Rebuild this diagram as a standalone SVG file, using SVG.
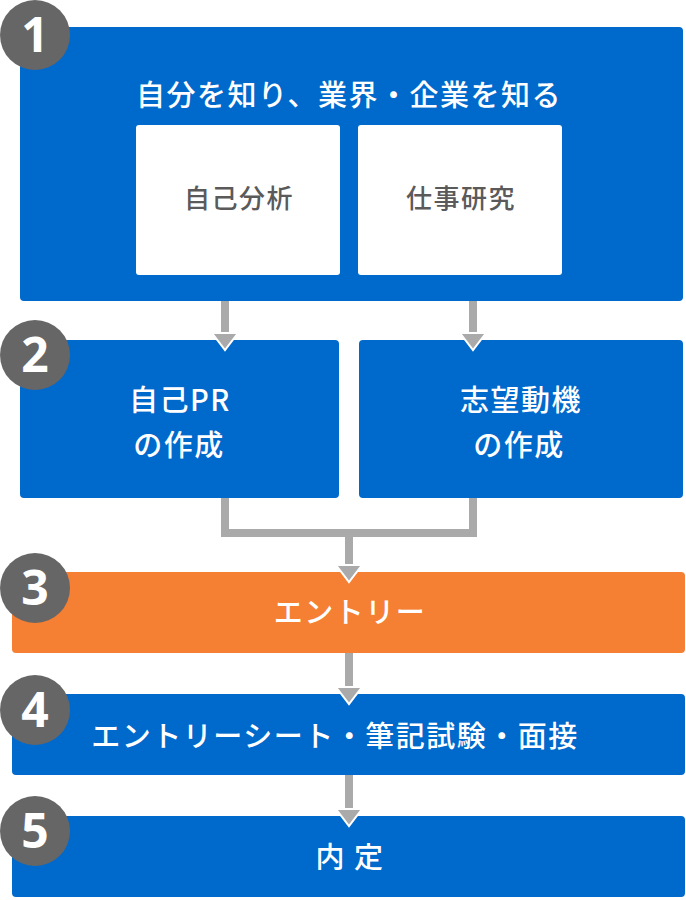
<svg xmlns="http://www.w3.org/2000/svg" width="686" height="900" viewBox="0 0 686 900">
<style>
.blue{fill:#0069CC}
.orange{fill:#F57F33}
.inner{fill:#FFFFFF}
.num{fill:#666666}
.numt{fill:#FFFFFF;font-family:"Open Sans","Noto Sans",sans-serif;font-weight:700;font-size:48px;text-anchor:middle}
.t{fill:#FFFFFF;font-family:"Noto Sans CJK JP","Noto Sans",sans-serif;font-weight:500;font-size:29px;letter-spacing:1.5px;text-anchor:middle}
.g{fill:#5A5A5A;font-family:"Noto Sans CJK JP","Noto Sans",sans-serif;font-weight:500;font-size:26px;letter-spacing:1.5px;text-anchor:middle}
.line{fill:none;stroke:#AAAAAA;stroke-width:8}
.head{fill:#AAAAAA;stroke:#FFFFFF;stroke-width:2;stroke-linejoin:miter}
</style>
<g id="node1">
<rect class="blue" x="20" y="27" width="663" height="274" rx="4"/>
<text class="t" x="349" y="106">自分を知り、業界・企業を知る</text>
<g id="node1a">
<rect class="inner" x="136" y="125" width="204" height="150" rx="3"/>
<text class="g" x="239" y="208">自己分析</text>
</g>
<g id="node1b">
<rect class="inner" x="358" y="125" width="204" height="150" rx="3"/>
<text class="g" x="461" y="208">仕事研究</text>
</g>
</g>
<g id="node2a">
<rect class="blue" x="20" y="340" width="319" height="158" rx="4"/>
<text class="t" x="180" y="411">自己PR</text>
<text class="t" x="179" y="456">の作成</text>
</g>
<g id="node2b">
<rect class="blue" x="359" y="340" width="324" height="158" rx="4"/>
<text class="t" x="521" y="411">志望動機</text>
<text class="t" x="519" y="456">の作成</text>
</g>
<g id="node3">
<rect class="orange" x="12" y="572" width="673" height="81" rx="4"/>
<text class="t" x="350" y="623">エントリー</text>
</g>
<g id="node4">
<rect class="blue" x="12" y="694" width="673" height="81" rx="4"/>
<text class="t" x="335" y="747">エントリーシート・筆記試験・面接</text>
</g>
<g id="node5">
<rect class="blue" x="12" y="816" width="673" height="81" rx="4"/>
<text class="t" x="350" y="868">内 定</text>
</g>
<g id="connectors">
<path class="line" d="M225 301V336"/>
<polygon class="head" points="212,333 238,333 225,350"/>
<path class="line" d="M473 301V336"/>
<polygon class="head" points="460,333 486,333 473,350"/>
<path class="line" d="M225 498V533H473V498M349 533V568"/>
<polygon class="head" points="336,565 362,565 349,582"/>
<path class="line" d="M349 653V690"/>
<polygon class="head" points="336,687 362,687 349,704"/>
<path class="line" d="M349 775V812"/>
<polygon class="head" points="336,809 362,809 349,826"/>
</g>
<g id="badge1"><circle class="num" cx="35" cy="35" r="35"/><text class="numt" x="35" y="52">1</text></g>
<g id="badge2"><circle class="num" cx="35" cy="355" r="35"/><text class="numt" x="35" y="372">2</text></g>
<g id="badge3"><circle class="num" cx="35" cy="588" r="35"/><text class="numt" x="35" y="605">3</text></g>
<g id="badge4"><circle class="num" cx="35" cy="710" r="35"/><text class="numt" x="35" y="727">4</text></g>
<g id="badge5"><circle class="num" cx="35" cy="831" r="35"/><text class="numt" x="35" y="848">5</text></g>
</svg>
